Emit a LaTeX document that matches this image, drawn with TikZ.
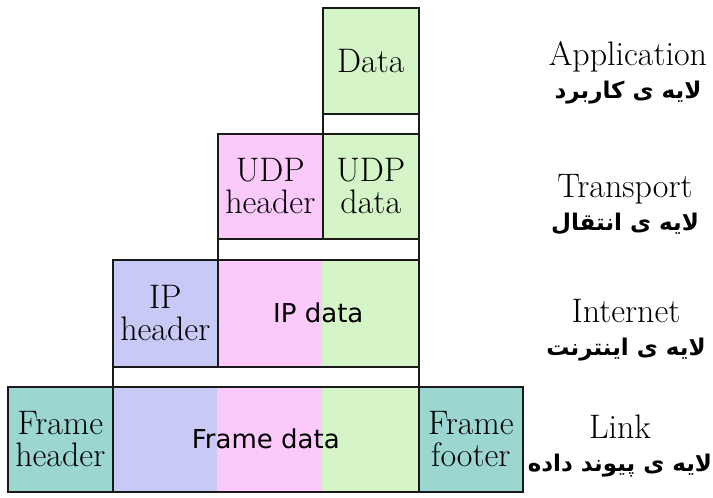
\documentclass[tikz,border=0pt]{standalone}
\usepackage{fontspec}
\newfontfamily\arabicfont[Script=Arabic]{DejaVu Sans}
\newfontfamily\dvsans{DejaVu Sans}
\TeXXeTstate=1
\definecolor{appgreen}{RGB}{213,245,200}
\definecolor{udppink}{RGB}{251,202,251}
\definecolor{ipblue}{RGB}{201,201,248}
\definecolor{frameteal}{RGB}{155,214,208}
\tikzset{
  seg/.style={draw=black!90, line width=1.6pt, rectangle, inner sep=0pt,
    anchor=north west, align=center, font=\fontsize{34}{32}\selectfont},
  sanslbl/.style={font=\dvsans\fontsize{26}{30}\selectfont},
  layer/.style={align=center, font=\fontsize{34}{33}\selectfont},
}
\newcommand{\fa}[1]{{\arabicfont\bfseries\fontsize{23}{24}\selectfont\beginR #1\endR}}
\begin{document}
\begin{tikzpicture}[x=1pt,y=-1pt]
\useasboundingbox (0,0) rectangle (713,498);
% colour bands under the data nodes
\fill[udppink] (217,259) rectangle (322,366);
\fill[appgreen] (322,259) rectangle (418,366);
\fill[ipblue] (112,386) rectangle (217,491);
\fill[udppink] (217,386) rectangle (322,491);
\fill[appgreen] (322,386) rectangle (418,491);
% application
\node[seg, fill=appgreen, minimum width=96pt, minimum height=106pt] (data) at (322,7) {Data};
\node[seg, minimum width=96pt, minimum height=20pt] (appgap) at (322,113) {};
% transport
\node[seg, fill=udppink, minimum width=105pt, minimum height=105pt] (udphdr) at (217,133) {UDP\\header};
\node[seg, fill=appgreen, minimum width=96pt, minimum height=105pt] (udpdata) at (322,133) {UDP\\data};
\node[seg, minimum width=201pt, minimum height=21pt] (tpgap) at (217,238) {};
% internet
\node[seg, fill=ipblue, minimum width=105pt, minimum height=107pt] (iphdr) at (112,259) {IP\\header};
\node[seg, sanslbl, minimum width=201pt, minimum height=107pt] (ipdata) at (217,259) {IP data};
\node[seg, minimum width=306pt, minimum height=20pt] (ipgap) at (112,366) {};
% link
\node[seg, fill=frameteal, minimum width=105pt, minimum height=105pt] (framehdr) at (7,386) {Frame\\header};
\node[seg, sanslbl, minimum width=306pt, minimum height=105pt] (framedata) at (112,386) {Frame data};
\node[seg, fill=frameteal, minimum width=104pt, minimum height=105pt] (frameftr) at (418,386) {Frame\\footer};
% layer names
\node[layer] (app) at (628,73) {Application\\\fa{لایه ی کاربرد}};
\node[layer] (tp) at (625,205) {Transport\\\fa{لایه ی انتقال}};
\node[layer] (inet) at (626,330) {Internet\\\fa{لایه ی اینترنت}};
\node[layer] (lnk) at (620,446) {Link\\\fa{لایه ی پیوند داده}};
\end{tikzpicture}
\end{document}
